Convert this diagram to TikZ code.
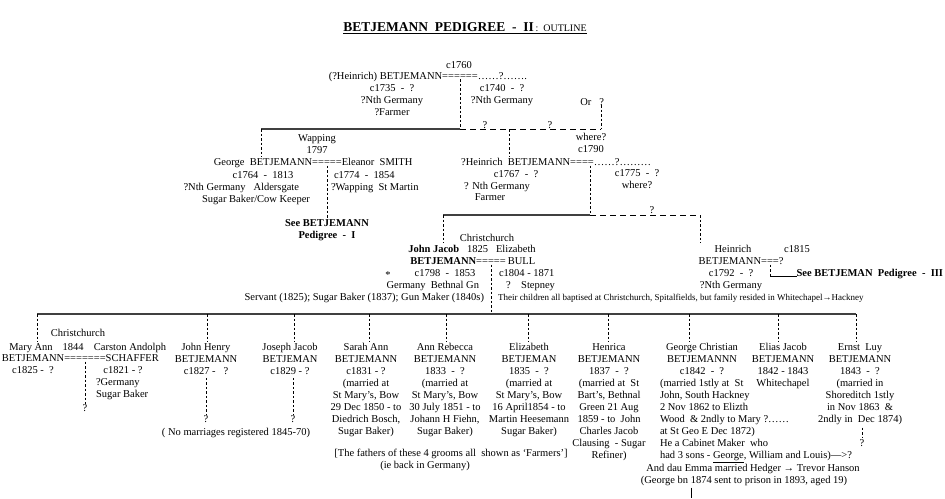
\documentclass[tikz,border=0pt]{standalone}
\usepackage{fontspec}
\setmainfont{Liberation Serif}
\begin{document}
\begin{tikzpicture}[x=1pt,y=-1pt,
  txt/.style={font=\fontsize{10.5}{12}\selectfont, inner sep=0pt, outer sep=0pt, align=center},
  bld/.style={txt, font=\fontsize{10.5}{12}\selectfont\bfseries},
  sm/.style={txt, font=\fontsize{9}{11}\selectfont},
  dsh/.style={dash pattern=on 2.5pt off 2pt, line width=0.6pt},
  hdsh/.style={dash pattern=on 6pt off 4pt, line width=0.7pt},
  sol/.style={line width=1.1pt, draw=black!75},
  fine/.style={line width=0.7pt}
]
\fill[white] (0,0) rectangle (945,498);
\useasboundingbox (0,0) rectangle (945,498);

% ---------- title
\node[txt, anchor=base] (title) at (465,31) {{\fontsize{13.5}{15}\selectfont\bfseries BETJEMANN\ \ PEDIGREE\ \ -\ \ II}{\fontsize{10}{12}\selectfont\,:\ \ OUTLINE}};

% ---------- generation 1
\node[txt, anchor=base] (c1760) at (459,68) {c1760};
\node[txt, anchor=base] (eqA) at (460,79) {======};
\node[txt, anchor=base east] (heinA) at (eqA.base west) {(?Heinrich) BETJEMANN};
\node[txt, anchor=base west] (wifeA) at (eqA.base east) {……?…….};
\node[txt, anchor=north] (heinAi) at (392,84.5) {c1735\ \ -\ \ ?\\?Nth Germany\\?Farmer};
\node[txt, anchor=north] (wifeAi) at (502,84.5) {c1740\ \ -\ \ ?\\?Nth Germany};
\node[txt, anchor=base east] (orq) at (604,105) {Or\ \ \ ?};
\node[txt, anchor=base] (qA1) at (485,128) {?};
\node[txt, anchor=base] (qA2) at (550,128) {?};

% ---------- generation 2 (left)
\node[txt, anchor=north] (wap) at (317,134.5) {Wapping\\1797};
\node[txt, anchor=base] (eqB) at (327,165.5) {=====};
\node[txt, anchor=base east] (george) at (eqB.base west) {George\ \ BETJEMANN};
\node[txt, anchor=base west] (eleanor) at (eqB.base east) {Eleanor\ \ SMITH};
\node[txt, anchor=base] (geoD) at (263,178) {c1764\ \ -\ \ 1813};
\node[txt, anchor=base east] (geoP) at (299,190.5) {?Nth Germany\ \ \ Aldersgate};
\node[txt, anchor=base] (geoO) at (256,202.5) {Sugar Baker/Cow Keeper};
\node[txt, anchor=base west] (elD) at (334,178) {c1774\ \ -\ \ 1854};
\node[txt, anchor=base west] (elP) at (331,190.5) {?Wapping\ \ St Martin};
\node[bld, anchor=north] (seeI) at (327,219.5) {See BETJEMANN\\Pedigree\ \ -\ \ I};

% ---------- generation 2 (right)
\node[txt, anchor=north] (wh1) at (591,133.5) {where?\\c1790};
\node[txt, anchor=base] (eqC) at (582,165.5) {====};
\node[txt, anchor=base east] (heinB) at (eqC.base west) {?Heinrich\ \ BETJEMANN};
\node[txt, anchor=base west] (wifeB) at (eqC.base east) {……?………};
\node[txt, anchor=base] (hbD) at (516,177.5) {c1767\ \ -\ \ ?};
\node[txt, anchor=base] (hbP) at (497,189.5) {? Nth Germany};
\node[txt, anchor=base] (hbO) at (490,200.5) {Farmer};
\node[txt, anchor=north] (wbD) at (637,170) {c1775\ \ -\ \ ?\\where?};
\node[txt, anchor=base] (qB) at (652,213.5) {?};

% ---------- generation 3: John Jacob
\node[txt, anchor=base] (ccJ) at (487,241) {Christchurch};
\node[txt, anchor=base] (jjrow) at (472,252.5) {\textbf{John Jacob}\ \ \ 1825\ \ \ Elizabeth};
\node[txt, anchor=base] (eqD) at (491,264.5) {=====};
\node[bld, anchor=base east] (jjB) at (eqD.base west) {BETJEMANN};
\node[txt, anchor=base west] (bull) at ([xshift=2pt]eqD.base east) {BULL};
\node[txt, anchor=base] (star) at (388,278) {*};
\node[txt, anchor=base] (jjD) at (445,276.5) {c1798\ \ -\ \ 1853};
\node[txt, anchor=base east] (jjP) at (479,288.5) {Germany\ \ Bethnal Gn};
\node[txt, anchor=base west] (elizD) at (499,276.5) {c1804 - 1871};
\node[txt, anchor=base west] (elizP) at (506,288.5) {?\ \ \ \ Stepney};
\node[txt, anchor=base east] (occ) at (484,300.5) {Servant (1825); Sugar Baker (1837); Gun Maker (1840s)};
\node[sm, anchor=base west] (bapt) at (498,300.5) {Their children all baptised at Christchurch, Spitalfields, but family resided in Whitechapel→Hackney};

% ---------- generation 3: Heinrich c1815
\node[txt, anchor=base] (hc) at (733,252.5) {Heinrich};
\node[txt, anchor=base] (hcY) at (797,252.5) {c1815};
\node[txt, anchor=base] (eqE) at (770,264.5) {===};
\node[txt, anchor=base east] (hcB) at (eqE.base west) {BETJEMANN};
\node[txt, anchor=base west] (hcq) at (eqE.base east) {?};
\node[txt, anchor=base] (hcD) at (731,276.5) {c1792\ \ -\ \ ?};
\node[txt, anchor=base] (hcP) at (731,288.5) {?Nth Germany};
\node[bld, anchor=base east] (see3) at (943,276.5) {See BETJEMAN\ \ Pedigree\ \ -\ \ III};

% ---------- children
\node[txt, anchor=base] (ccM) at (78,336.5) {Christchurch};
\node[txt, anchor=base] (mary) at (31,350) {Mary Ann};
\node[txt, anchor=base] (m1844) at (73,350) {1844};
\node[txt, anchor=base] (carston) at (130,350) {Carston Andolph};
\node[txt, anchor=base] (eqF) at (85,361.5) {=======};
\node[txt, anchor=base east] (maryB) at (eqF.base west) {BETJEMANN};
\node[txt, anchor=base west] (schaffer) at (eqF.base east) {SCHAFFER};
\node[txt, anchor=base] (maryD) at (33,373) {c1825 -\ \ ?};
\node[txt, anchor=base] (carD) at (123,373) {c1821 - ?};
\node[txt, anchor=base west] (carP1) at (96,385) {?Germany};
\node[txt, anchor=base west] (carP2) at (96,397) {Sugar Baker};
\node[txt, anchor=base] (maryq) at (85,411) {?};

\node[txt, anchor=north] (jh) at (206,343.5) {John Henry\\BETJEMANN\\c1827 -\ \ \ ?};
\node[txt, anchor=north] (jo) at (290,343.5) {Joseph Jacob\\BETJEMAN\\c1829 - ?};
\node[txt, anchor=base] (jhq) at (206,422) {?};
\node[txt, anchor=base] (joq) at (293,422) {?};
\node[txt, anchor=base] (nomar) at (236,435.5) {( No marriages registered 1845-70)};

\node[txt, anchor=north] (sarah) at (366,343.5) {Sarah Ann\\BETJEMANN\\c1831 - ?\\(married at\\St Mary's, Bow\\29 Dec 1850 - to\\Diedrich Bosch,\\Sugar Baker)};
\node[txt, anchor=north] (annr) at (445,343.5) {Ann Rebecca\\BETJEMANN\\1833\ \ -\ \ ?\\(married at\\St Mary's, Bow\\30 July 1851 - to\\Johann H Fiehn,\\Sugar Baker)};
\node[txt, anchor=north] (eliz) at (529,343.5) {Elizabeth\\BETJEMAN\\1835\ \ -\ \ ?\\(married at\\St Mary's, Bow\\16 April1854 - to\\Martin Heesemann\\Sugar Baker)};
\node[txt, anchor=north] (henr) at (609,343.5) {Henrica\\BETJEMANN\\1837\ \ -\ \ ?\\(married at\ \ St\\Bart's, Bethnal\\Green 21 Aug\\1859 - to\ \ John\\Charles Jacob\\Clausing\ \ - Sugar\\Refiner)};
\node[txt, anchor=base] (fath) at (451,456.5) {[The fathers of these 4 grooms all\ \ shown as `Farmers']};
\node[txt, anchor=base] (ieb) at (425,468.5) {(ie back in Germany)};

\node[txt, anchor=north] (gc) at (702,343.5) {George Christian\\BETJEMANNN\\c1842\ \ -\ \ ?};
\node[txt, anchor=north west, align=left] (gcT) at (660,379.5) {(married 1stly at\ \ St\\John, South Hackney\\2 Nov 1862 to Elizth\\Wood\ \ \& 2ndly to Mary ?……\\at St Geo E Dec 1872)\\He a Cabinet Maker\ \ who\\had 3 sons - \underline{George}, William and Louis)--->?};
\node[txt, anchor=base] (dau) at (753,471) {And dau Emma married Hedger → Trevor Hanson};
\node[txt, anchor=base] (prison) at (744,483) {(George bn 1874 sent to prison in 1893, aged 19)};

\node[txt, anchor=north] (ej) at (783,343.5) {Elias Jacob\\BETJEMANN\\1842 - 1843\\Whitechapel};
\node[txt, anchor=north] (el) at (860,343.5) {Ernst\ \ Luy\\BETJEMANN\\1843\ \ -\ \ ?\\(married in\\Shoreditch 1stly\\in Nov 1863\ \ \&\\2ndly in\ \ Dec 1874)};
\node[txt, anchor=base] (elq) at (862,446) {?};

% ================= connectors
\draw[line width=0.8pt] ([yshift=-2.2pt]title.base west) -- ([yshift=-2.2pt]title.base east);

% line 1
\coordinate (LAa) at (261,129);
\coordinate (LAb) at (eqA.south |- LAa);
\coordinate (LAc) at (601,129);
\coordinate (LAd) at (509,129);
\draw[sol] (LAa) -- (LAb);
\draw[hdsh] (LAb) -- (LAc);
\draw[dsh] (eqA.south) -- (LAb);
\draw[dsh] (LAc |- orq.south) -- (LAc);
\draw[dsh, shorten >=2pt] (LAa) -- (LAa |- george.north);
\draw[dsh, shorten >=2pt] (LAd) -- (LAd |- heinB.north);

% line 2
\coordinate (LBa) at (443,215);
\coordinate (LBb) at (590,215);
\coordinate (LBc) at (700,215);
\draw[sol] (LBa) -- (LBb);
\draw[hdsh] (LBb) -- (LBc);
\draw[dsh] (LBb |- eqC.south) -- (LBb);
\draw[dsh] (eqB.south) -- (seeI.north);
\draw[dsh, shorten >=2pt] (LBa) -- (LBa |- jjrow.north);
\draw[dsh, shorten >=2pt] (LBc) -- (LBc |- hc.north);

% Heinrich c1815 corner
\coordinate (crn) at (eqE.south |- see3.base);
\draw[dsh] (eqE.south) -- (crn);
\draw[fine] (crn) -- (see3.base west);

% children line
\coordinate (Cl) at (37,314);
\coordinate (Cr) at (856,314);
\coordinate (Cj) at (491,314);
\draw[sol] (Cl) -- (Cr);
\draw[dsh] (eqD.south) -- (Cj);
\draw[dsh, shorten >=2pt] (Cl) -- (Cl |- mary.north);
\draw[dsh, shorten >=2pt] (Cr) -- (Cr |- el.north);
\foreach \n/\x in {jh/207, jo/294, sarah/369, annr/446, eliz/528, henr/608, gc/689, ej/778} {
  \coordinate (d\n) at (\x,314);
  \draw[dsh, shorten >=2pt] (d\n) -- (d\n |- \n.north);
}

% lower connectors
\draw[dsh] (eqF.south) -- (maryq.north);
\draw[dsh] ([yshift=-3pt]jh.south) -- ([yshift=1pt]jhq.north);
\coordinate (joA) at (joq.north |- jo.south);
\draw[dsh] ([yshift=-3pt]joA) -- ([yshift=1pt]joq.north);
\coordinate (elA) at (elq.north |- el.south);
\draw[dsh] ([yshift=-3pt]elA) -- ([yshift=1pt]elq.north);
\coordinate (barA) at (691,487.5);
\coordinate (barB) at (691,498);
\draw[line width=0.9pt] (barA) -- (barB);
\end{tikzpicture}
\end{document}
